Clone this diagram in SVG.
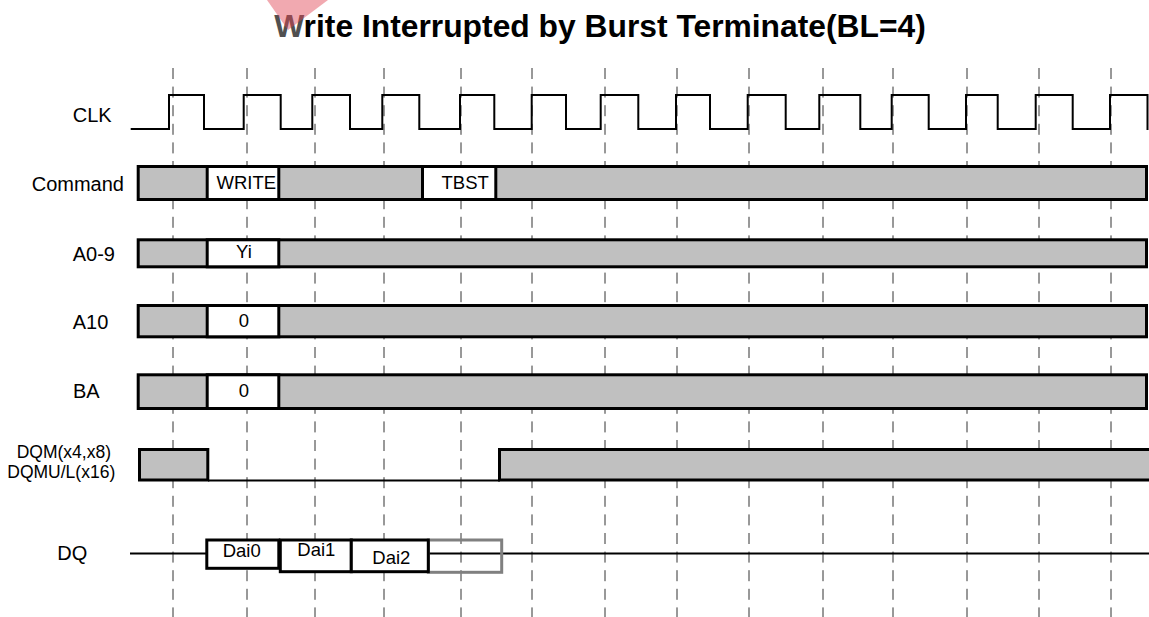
<svg xmlns="http://www.w3.org/2000/svg" width="1149" height="617" viewBox="0 0 1149 617">
<style>
.lbl{font-family:"Liberation Sans",Arial,sans-serif;font-size:20px;fill:#000}
.sm{font-family:"Liberation Sans",Arial,sans-serif;font-size:17.5px;fill:#000}
.bx{font-family:"Liberation Sans",Arial,sans-serif;font-size:18.5px;fill:#000}
.title{font-family:"Liberation Sans",Arial,sans-serif;font-size:31.8px;font-weight:bold;fill:#000}
.bar{fill:#c0c0c0;stroke:#000;stroke-width:3}
.wbox{fill:#fff;stroke:#000;stroke-width:3}
.grid line{stroke:#333;stroke-width:1;stroke-dasharray:11 7.6}
.wire{fill:none;stroke:#000;stroke-width:2}
</style>
<rect width="1149" height="617" fill="#fff"/>
<g id="title">
<text class="title" x="600" y="37" text-anchor="middle"><tspan fill="#505050">W</tspan>rite Interrupted by Burst Terminate(BL=4)</text>
</g>
<g id="grid" class="grid">
<line x1="173" y1="68" x2="173" y2="617"/>
<line x1="247" y1="68" x2="247" y2="617"/>
<line x1="315" y1="68" x2="315" y2="617"/>
<line x1="384" y1="68" x2="384" y2="617"/>
<line x1="461" y1="68" x2="461" y2="617"/>
<line x1="532" y1="68" x2="532" y2="617"/>
<line x1="605" y1="68" x2="605" y2="617"/>
<line x1="677" y1="68" x2="677" y2="617"/>
<line x1="749" y1="68" x2="749" y2="617"/>
<line x1="823" y1="68" x2="823" y2="617"/>
<line x1="893" y1="68" x2="893" y2="617"/>
<line x1="967" y1="68" x2="967" y2="617"/>
<line x1="1039" y1="68" x2="1039" y2="617"/>
<line x1="1111" y1="68" x2="1111" y2="617"/>
</g>
<g id="clk">
<text class="lbl" x="72.7" y="122">CLK</text>
<path class="wire" d="M130.7,129 H169 V95 H204 V129 H243.7 V95 H280.7 V129 H312.3 V95 H350 V129 H382.3 V95 H419.3 V129 H460 V95 H494.3 V129 H531.7 V95 H566 V129 H600.7 V95 H638.3 V129 H676 V95 H710 V129 H747.7 V95 H785.7 V129 H819.3 V95 H860.3 V129 H891.7 V95 H928.7 V129 H966 V95 H997.7 V129 H1035.7 V95 H1072.7 V129 H1110 V95 H1147.5 V130"/>
</g>
<g id="command">
<text class="lbl" x="31.7" y="191">Command</text>
<rect class="bar" x="138.2" y="166.5" width="1008.3" height="33"/>
<rect class="wbox" x="207.2" y="166.5" width="71.6" height="33"/>
<text class="bx" x="216.5" y="189">WRITE</text>
<rect class="wbox" x="422.5" y="166.5" width="73.3" height="33"/>
<text class="bx" x="441.5" y="189">TBST</text>
</g>
<g id="a0-9">
<text class="lbl" x="72.7" y="260.7">A0-9</text>
<rect class="bar" x="138.2" y="239.8" width="1008.3" height="27"/>
<rect class="wbox" x="207.2" y="239.8" width="71.6" height="27"/>
<text class="bx" x="244" y="258.3" text-anchor="middle">Yi</text>
</g>
<g id="a10">
<text class="lbl" x="72.7" y="329">A10</text>
<rect class="bar" x="138.2" y="305.5" width="1008.3" height="31.3"/>
<rect class="wbox" x="207.2" y="305.5" width="71.6" height="31.3"/>
<text class="bx" x="244" y="327.3" text-anchor="middle">0</text>
</g>
<g id="ba">
<text class="lbl" x="73" y="397.7">BA</text>
<rect class="bar" x="138.2" y="374.8" width="1008.3" height="33.7"/>
<rect class="wbox" x="207.2" y="374.8" width="71.6" height="33.7"/>
<text class="bx" x="244" y="396.7" text-anchor="middle">0</text>
</g>
<g id="dqm">
<text class="sm" x="16.7" y="458">DQM(x4,x8)</text>
<text class="sm" x="7.3" y="478">DQMU/L(x16)</text>
<line class="wire" x1="208" y1="480.5" x2="500" y2="480.5"/>
<rect class="bar" x="139.5" y="449.5" width="68.3" height="30.5"/>
<rect class="bar" x="499.5" y="449.5" width="660" height="30.5"/>
</g>
<g id="dq">
<text class="lbl" x="57.3" y="560">DQ</text>
<line class="wire" x1="130" y1="553.5" x2="1149" y2="553.5"/>
<rect x="428.3" y="540" width="73.4" height="32.3" fill="none" stroke="#808080" stroke-width="3"/>
<rect class="wbox" x="206.8" y="540" width="72" height="28.3"/>
<text class="bx" x="222.7" y="557">Dai0</text>
<rect class="wbox" x="280.3" y="540" width="71" height="31.7"/>
<text class="bx" x="297.3" y="555.5">Dai1</text>
<rect class="wbox" x="351.3" y="540" width="77" height="31.7"/>
<text class="bx" x="372.3" y="563.5">Dai2</text>
</g>
<polygon id="watermark" points="267,0 328,0 288,30" fill="#e04050" opacity="0.45"/>
</svg>
